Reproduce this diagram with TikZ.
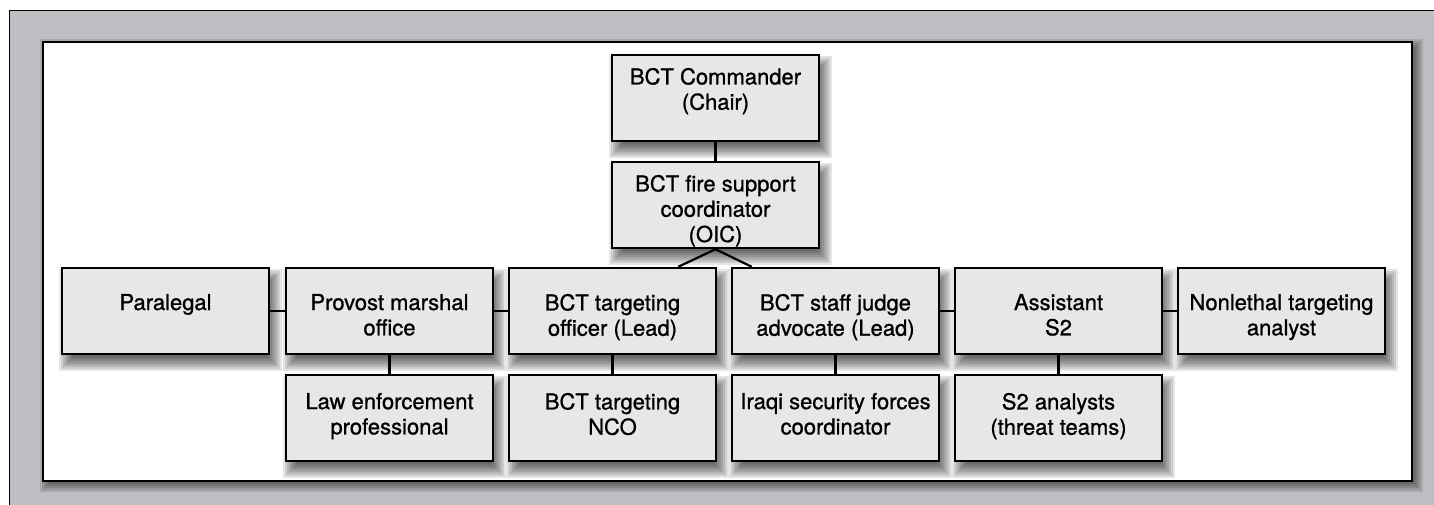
\documentclass[tikz,border=0pt]{standalone}
\usepackage{fontspec}
\setmainfont{TeX Gyre Heros}
\newfontfamily\boxfont[FakeBold=0.9]{TeX Gyre Heros}
\usetikzlibrary{calc}
\definecolor{outergray}{RGB}{189,190,193}
\definecolor{boxgray}{RGB}{230,231,232}
\pgfdeclarelayer{bg}
\pgfdeclarelayer{shade}
\pgfsetlayers{bg,shade,main}
\newcommand{\softshadow}[3]{%
  \begin{pgfonlayer}{shade}
    \foreach \e in {-7,-5,...,7}{
      \fill[black,opacity=0.1] ($(#1.north west)+(#2-\e,#3-\e)$) rectangle ($(#1.south east)+(#2+\e,#3+\e)$);
    }
  \end{pgfonlayer}}
\tikzset{
  box/.style={draw=black, line width=2.4pt, fill=boxgray, minimum width=207pt, minimum height=86pt, inner sep=0pt},
  txt/.style={font=\boxfont\fontsize{22}{25.3}\selectfont, align=center, inner sep=0pt, anchor=north},
  link/.style={line width=2.2pt}
}
\begin{document}
\begin{tikzpicture}[x=1pt,y=-1pt]
\useasboundingbox (0,0) rectangle (1434,504);
% frame and panel
\begin{pgfonlayer}{bg}
  \fill[outergray] (9,10) rectangle (1445,515);
  \draw[line width=1pt] (9,515) -- (9,10) -- (1445,10);
  \foreach \e in {-5,-3,...,7}{
    \fill[black,opacity=0.11] (47-\e,46-\e) rectangle (1416+\e,485+\e);
  }
  \draw[fill=white, line width=1.5pt] (43,42) rectangle (1412,481);
\end{pgfonlayer}
% boxes
\node[box] (cmd)  at (715.5,98)  {};
\node[box] (fire) at (715.5,205) {};
\node[box] (para) at (165.5,311) {};
\node[box] (pmo)  at (389.5,311) {};
\node[box] (tgt)  at (612.5,311) {};
\node[box] (sja)  at (835.5,311) {};
\node[box] (asst) at (1058.5,311) {};
\node[box] (nla)  at (1281.5,311) {};
\node[box] (law)  at (389.5,418) {};
\node[box] (nco)  at (612.5,418) {};
\node[box] (isf)  at (835.5,418) {};
\node[box] (s2a)  at (1058.5,418) {};
% texts
\node[txt] (cmd-t)  at ([yshift=-14pt]cmd.north)  {BCT Commander\\(Chair)};
\node[txt] (fire-t) at ([yshift=-14pt]fire.north) {BCT fire support\\coordinator\\(OIC)};
\node[txt] (para-t) at ([yshift=-27pt]para.north) {Paralegal};
\node[txt] (pmo-t)  at ([yshift=-27pt]pmo.north)  {Provost marshal\\office};
\node[txt] (tgt-t)  at ([yshift=-27pt]tgt.north)  {BCT targeting\\officer (Lead)};
\node[txt] (sja-t)  at ([yshift=-27pt]sja.north)  {BCT staff judge\\advocate (Lead)};
\node[txt] (asst-t) at ([yshift=-27pt]asst.north) {Assistant\\S2};
\node[txt] (nla-t)  at ([yshift=-27pt]nla.north)  {Nonlethal targeting\\analyst};
\node[txt] (law-t)  at ([yshift=-19pt]law.north)  {Law enforcement\\professional};
\node[txt] (nco-t)  at ([yshift=-19pt]nco.north)  {BCT targeting\\NCO};
\node[txt] (isf-t)  at ([yshift=-19pt]isf.north)  {Iraqi security forces\\coordinator};
\node[txt] (s2a-t)  at ([yshift=-19pt]s2a.north)  {S2 analysts\\(threat teams)};
% shadows
\foreach \n in {cmd,fire,para,pmo,tgt,sja,asst,nla,law,nco,isf,s2a}{
  \softshadow{\n}{5}{9}
}
% connectors
\draw[link] (cmd.south) -- (fire.north);
\draw[link] (fire.south) -- ([xshift=-39pt]tgt.north east);
\draw[link] (fire.south) -- ([xshift=21pt]sja.north west);
\draw[link] (para.east) -- (pmo.west);
\draw[link] (pmo.east) -- (tgt.west);
\draw[link] (sja.east) -- (asst.west);
\draw[link] (asst.east) -- (nla.west);
\draw[link] (pmo.south) -- (law.north);
\draw[link] (tgt.south) -- (nco.north);
\draw[link] (sja.south) -- (isf.north);
\draw[link] (asst.south) -- (s2a.north);
\end{tikzpicture}
\end{document}
